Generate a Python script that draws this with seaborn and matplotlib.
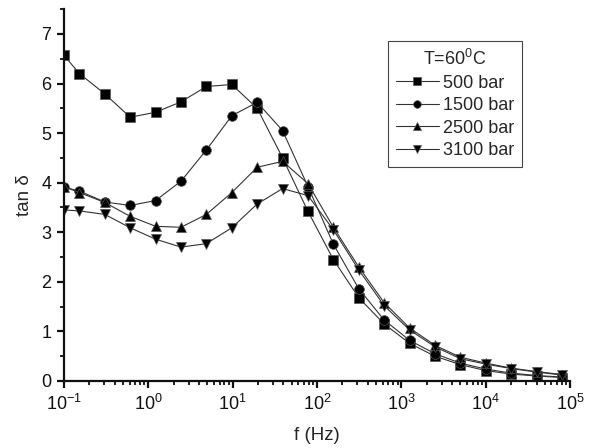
import numpy as np
import pandas as pd
import matplotlib
matplotlib.use("Agg")
import matplotlib.pyplot as plt
from matplotlib.ticker import LogLocator, MultipleLocator, NullFormatter, FixedLocator
import seaborn as sns

# frequencies (Hz) and tan delta for each pressure, T = 60 C
freq = [0.1, 0.1526, 0.3052, 0.6104, 1.2207, 2.4414, 4.8828, 9.7656, 19.531, 39.0625,
        78.125, 156.25, 312.5, 625, 1250, 2500, 5000, 10000, 20000, 40000, 80000]
tan_500 = [6.57, 6.20, 5.79, 5.32, 5.42, 5.63, 5.94, 5.98, 5.50, 4.50, 3.42,
           2.45, 1.68, 1.15, 0.76, 0.50, 0.33, 0.21, 0.14, 0.10, 0.07]
tan_1500 = [3.91, 3.83, 3.61, 3.54, 3.64, 4.03, 4.66, 5.35, 5.62, 5.05, 3.92,
            2.76, 1.86, 1.23, 0.82, 0.55, 0.36, 0.24, 0.16, 0.11, 0.08]
tan_2500 = [3.92, 3.80, 3.60, 3.32, 3.12, 3.10, 3.36, 3.80, 4.31, 4.43, 3.98,
            3.10, 2.30, 1.58, 1.07, 0.72, 0.48, 0.36, 0.26, 0.19, 0.13]
tan_3100 = [3.45, 3.43, 3.36, 3.09, 2.86, 2.70, 2.77, 3.09, 3.57, 3.88, 3.74,
            3.05, 2.24, 1.52, 1.03, 0.69, 0.45, 0.34, 0.25, 0.18, 0.12]
labels = ["500 bar", "1500 bar", "2500 bar", "3100 bar"]
markers = ["s", "o", "^", "v"]
xticks = [0.1, 1, 10, 100, 1000, 10000, 100000]
xticklabels = ["$10^{-1}$", "$10^{0}$", "$10^{1}$", "$10^{2}$", "$10^{3}$", "$10^{4}$", "$10^{5}$"]

sns.set_style("ticks")
plt.rcParams['font.family'] = ['Liberation Sans', 'DejaVu Sans']
plt.rcParams['mathtext.fontset'] = 'custom'
plt.rcParams['mathtext.rm'] = 'Liberation Sans'
plt.rcParams['mathtext.it'] = 'Liberation Sans:italic'

fig = plt.figure(figsize=(5.92, 4.48), dpi=100)
ax = fig.add_axes([0.108, 0.1496, 0.855, 0.83])

for vals, lab, m in zip([tan_500, tan_1500, tan_2500, tan_3100], labels, markers):
    sns.lineplot(x=freq, y=vals, ax=ax, color="#333333", lw=0.8, marker=m,
                 markersize=7, markerfacecolor="black", markeredgecolor="#555555",
                 markeredgewidth=0.5, label=lab)

ax.set_xscale("log")
ax.set_xlim(0.1, 1e5)
ax.set_ylim(0, 7.5)
ax.xaxis.set_major_locator(FixedLocator(xticks))
ax.set_xticklabels(xticklabels)
ax.xaxis.set_minor_locator(LogLocator(base=10, subs=np.arange(2, 10), numticks=20))
ax.xaxis.set_minor_formatter(NullFormatter())
ax.yaxis.set_major_locator(MultipleLocator(1))
ax.yaxis.set_minor_locator(MultipleLocator(0.5))

for s in ["top", "right"]:
    ax.spines[s].set_visible(False)
for s in ["left", "bottom"]:
    ax.spines[s].set_linewidth(1.6)
    ax.spines[s].set_color("#111111")
ax.tick_params(which="major", direction="out", length=5, width=1.6, labelsize=13,
               colors="#111111", pad=4)
ax.tick_params(which="minor", direction="out", length=3, width=1.3, colors="#111111")

ax.set_xlabel("f (Hz)", fontsize=13.5, labelpad=10)
ax.set_ylabel("tan δ", fontsize=13.5, labelpad=6)

leg = ax.legend(title="T=60$^{0}$C", loc="upper right", bbox_to_anchor=(0.905, 0.914),
                fontsize=13, title_fontsize=13, frameon=True, fancybox=False,
                handlelength=2.4, handletextpad=0.2, borderpad=0.45, labelspacing=0.3,
                borderaxespad=0, edgecolor="#444444", framealpha=1)
leg.get_frame().set_linewidth(0.8)
for h in leg.legend_handles:
    h.set_markersize(5.5)

fig.savefig("out.png", dpi=100)
